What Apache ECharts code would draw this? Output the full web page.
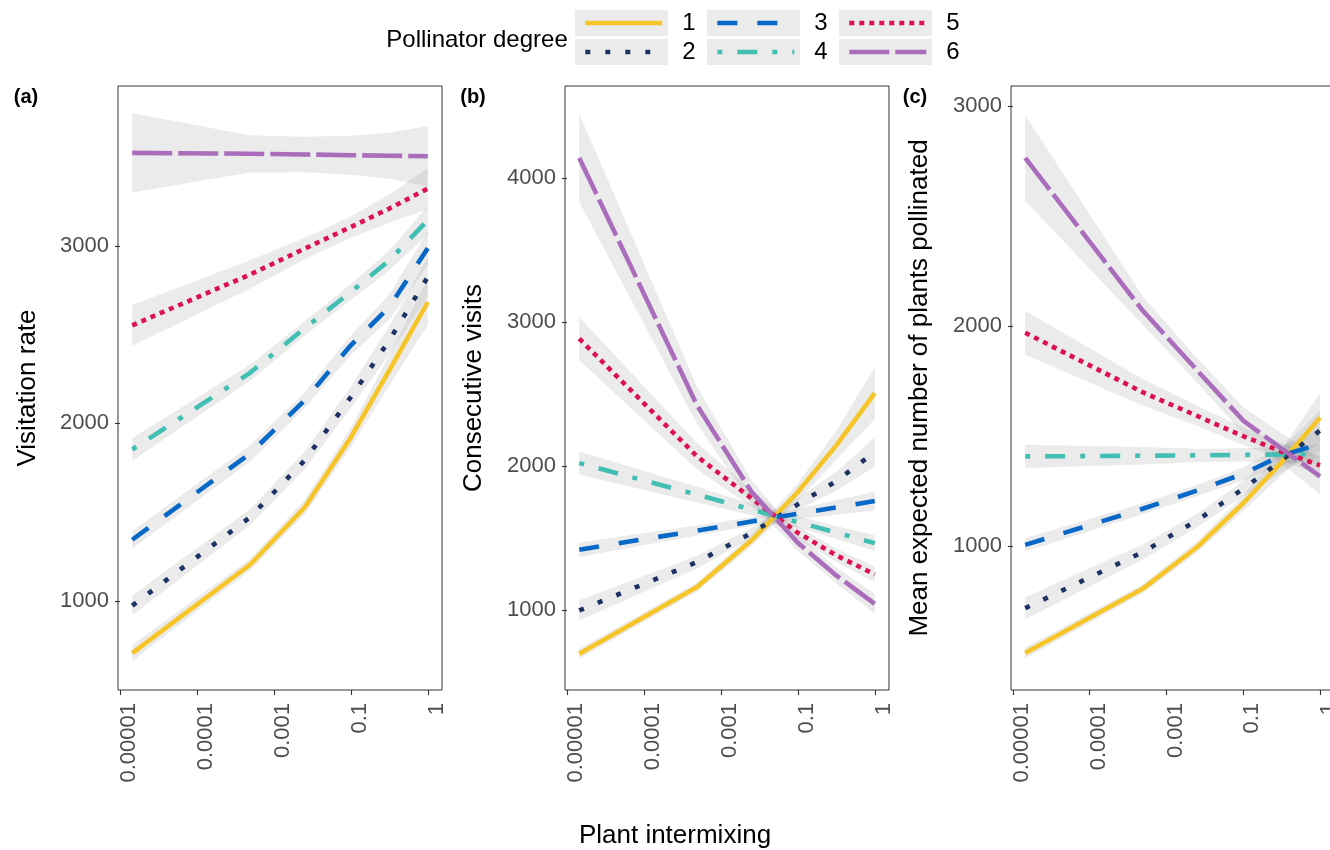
<!DOCTYPE html>
<html><head><meta charset="utf-8">
<script src="https://cdn.jsdelivr.net/npm/echarts@6/dist/echarts.min.js"></script>
<style>html,body{margin:0;padding:0;background:#fff;overflow:hidden}#c{width:1340px;height:850px}</style>
</head><body><div id="c"></div>
<script>
// x positions (on the transformed intermixing scale: tick 0..4)
const X_POS = [0.16, 1.69, 2.4, 3.0, 3.5, 4.0];
const X_TICKS = [0, 1, 2, 3, 4];
const X_LABELS = ['0.00001', '0.0001', '0.001', '0.1', '1'];
const DEGREES = ['1', '2', '3', '4', '5', '6'];

// (a) Visitation rate
const A1 = [705, 1203, 1526, 1921, 2299, 2684];
const A2 = [973, 1471, 1791, 2148, 2468, 2825];
const A3 = [1344, 1830, 2130, 2440, 2656, 2987];
const A4 = [1853, 2285, 2536, 2741, 2919, 3145];
const A5 = [2553, 2839, 2985, 3107, 3211, 3324];
const A6 = [3525, 3520, 3516, 3512, 3509, 3506];
const A_CI1 = [45, 33, 40, 55, 85, 130];
const A_CI2 = [55, 45, 50, 60, 80, 110];
const A_CI3 = [50, 45, 45, 55, 70, 95];
const A_CI4 = [63, 45, 40, 45, 55, 80];
const A_CI5 = [115, 80, 60, 60, 80, 115];
const A_CI6 = [224, 105, 100, 110, 130, 170];
const A_TICKS = [1000, 2000, 3000];

// (b) Consecutive visits
const B1 = [699, 1162, 1486, 1821, 2145, 2508];
const B2 = [1000, 1335, 1537, 1736, 1897, 2099];
const B3 = [1421, 1554, 1617, 1670, 1714, 1759];
const B4 = [2022, 1803, 1700, 1613, 1540, 1467];
const B5 = [2885, 2069, 1777, 1539, 1382, 1250];
const B6 = [4139, 2423, 1821, 1470, 1243, 1046];
const B_CI1 = [35, 30, 40, 60, 100, 180];
const B_CI2 = [70, 45, 35, 40, 65, 100];
const B_CI3 = [50, 35, 30, 35, 50, 65];
const B_CI4 = [80, 55, 40, 40, 45, 55];
const B_CI5 = [150, 90, 60, 45, 45, 55];
const B_CI6 = [306, 130, 80, 55, 55, 70];
const B_TICKS = [1000, 2000, 3000, 4000];

// (c) Mean expected number of plants pollinated
const C1 = [514, 806, 996, 1195, 1382, 1584];
const C2 = [718, 973, 1117, 1261, 1390, 1526];
const C3 = [1006, 1170, 1253, 1329, 1412, 1465];
const C4 = [1408, 1411, 1413, 1415, 1417, 1418];
const C5 = [1970, 1700, 1592, 1500, 1430, 1367];
const C6 = [2765, 2071, 1799, 1571, 1443, 1317];
const C_CI1 = [25, 20, 25, 35, 60, 110];
const C_CI2 = [50, 35, 30, 35, 55, 90];
const C_CI3 = [30, 25, 25, 30, 45, 65];
const C_CI4 = [53, 40, 30, 30, 35, 45];
const C_CI5 = [100, 60, 45, 40, 40, 45];
const C_CI6 = [195, 65, 55, 60, 70, 80];
const C_TICKS = [1000, 2000, 3000];

const COLORS = ['#F5C52A', '#1B3262', '#0868C8', '#41BFB3', '#DD1050', '#A96DBB'];
const DASHES = ['solid', [5, 15], [20, 20], [5, 15, 20, 15], [5, 5], [40, 6]];
const FONT = 'Liberation Sans, Arial, Helvetica, sans-serif';

const panels = [
  { vals: [A1, A2, A3, A4, A5, A6], ci: [A_CI1, A_CI2, A_CI3, A_CI4, A_CI5, A_CI6], ticks: A_TICKS, min: 497, max: 3902, left: 118 },
  { vals: [B1, B2, B3, B4, B5, B6], ci: [B_CI1, B_CI2, B_CI3, B_CI4, B_CI5, B_CI6], ticks: B_TICKS, min: 448, max: 4638, left: 565 },
  { vals: [C1, C2, C3, C4, C5, C6], ci: [C_CI1, C_CI2, C_CI3, C_CI4, C_CI5, C_CI6], ticks: C_TICKS, min: 346, max: 3092, left: 1011 }
];

function bandSeries(pi, v, ci) {
  const data = X_POS.map((x, i) => [x, v[i] - ci[i], v[i] + ci[i]]);
  return {
    type: 'custom', xAxisIndex: pi, yAxisIndex: pi, silent: true, z: 1, animation: false,
    data: data, encode: { x: 0, y: [1, 2] },
    renderItem: function (params, api) {
      if (params.dataIndex !== 0) return null;
      const up = data.map(d => api.coord([d[0], d[2]]));
      const lo = data.map(d => api.coord([d[0], d[1]])).reverse();
      return { type: 'polygon', shape: { points: up.concat(lo) }, style: { fill: 'rgba(153,153,153,0.2)' } };
    }
  };
}

const grid = [], xAxis = [], yAxis = [], series = [];
panels.forEach((p, pi) => {
  grid.push({ left: p.left, width: 324, top: 86, height: 604, show: true, borderColor: '#333', borderWidth: 1, backgroundColor: 'transparent' });
  xAxis.push({
    type: 'value', gridIndex: pi, min: -0.025, max: 4.185,
    axisLine: { show: false },
    splitLine: { show: false },
    axisTick: { show: true, length: 5, customValues: X_TICKS, lineStyle: { color: '#333', width: 1.1 } },
    axisLabel: {
      customValues: X_TICKS, rotate: 90, margin: 13, fontSize: 22, color: '#4D4D4D', fontFamily: FONT,
      verticalAlign: 'top', lineHeight: 18,
      formatter: v => X_LABELS[X_TICKS.indexOf(Math.round(v))] || ''
    }
  });
  yAxis.push({
    type: 'value', gridIndex: pi, min: p.min, max: p.max,
    axisLine: { show: false },
    splitLine: { show: false },
    axisTick: { show: true, length: 5, customValues: p.ticks, lineStyle: { color: '#333', width: 1.1 } },
    axisLabel: { customValues: p.ticks, margin: 9, fontSize: 22, color: '#4D4D4D', fontFamily: FONT, formatter: v => String(v) }
  });
  p.vals.forEach((v, k) => series.push(bandSeries(pi, v, p.ci[k])));
  p.vals.forEach((v, k) => {
    series.push({
      type: 'line', name: DEGREES[k], xAxisIndex: pi, yAxisIndex: pi,
      data: X_POS.map((x, i) => [x, v[i]]),
      symbol: 'none', z: 3, animation: false, silent: true,
      itemStyle: { color: COLORS[k] },
      lineStyle: { color: COLORS[k], width: 4.6, type: DASHES[k], cap: 'butt' }
    });
  });
});

const legendCommon = {
  orient: 'vertical', top: 10, padding: 0, itemWidth: 77, itemHeight: 26, itemGap: 3,
  textStyle: { fontSize: 24, color: '#000', fontFamily: FONT, lineHeight: 26, padding: [0, 0, 0, 15] },
  lineStyle: { width: 'inherit' }, itemStyle: { opacity: 0 },
  selectedMode: false, z: 10
};
const legend = [
  Object.assign({ left: 583, data: ['1', '2'] }, legendCommon),
  Object.assign({ left: 715, data: ['3', '4'] }, legendCommon),
  Object.assign({ left: 847, data: ['5', '6'] }, legendCommon)
];

const graphic = [];
[575, 707, 839].forEach(x => [10, 39].forEach(y => {
  graphic.push({ type: 'rect', left: x, top: y, shape: { width: 93, height: 26 }, style: { fill: '#EBEBEB' }, z: 0, silent: true });
}));
function txt(t, x, y, size, opts) {
  return Object.assign({
    type: 'text', x: x, y: y, silent: true, z: 5,
    style: { text: t, fontSize: size, fontFamily: FONT, fill: '#000', align: 'center', verticalAlign: 'middle' }
  }, opts || {});
}
graphic.push(txt('Pollinator degree', 477, 40, 24));
graphic.push(txt('Visitation rate', 28, 388, 26, { rotation: Math.PI / 2 }));
graphic.push(txt('Consecutive visits', 474, 388, 26, { rotation: Math.PI / 2 }));
graphic.push(txt('Mean expected number of plants pollinated', 920, 388, 26, { rotation: Math.PI / 2 }));
graphic.push(txt('Plant intermixing', 675, 836, 26));
const pa = txt('(a)', 26, 97, 20); pa.style.fontWeight = 'bold'; graphic.push(pa);
const pb = txt('(b)', 473, 97, 20); pb.style.fontWeight = 'bold'; graphic.push(pb);
const pc = txt('(c)', 915, 97, 20); pc.style.fontWeight = 'bold'; graphic.push(pc);

const chart = echarts.init(document.getElementById('c'), null, { renderer: 'canvas' });
chart.setOption({
  backgroundColor: '#fff',
  animation: false,
  grid, xAxis, yAxis, series, legend, graphic
});
</script>
</body></html>
